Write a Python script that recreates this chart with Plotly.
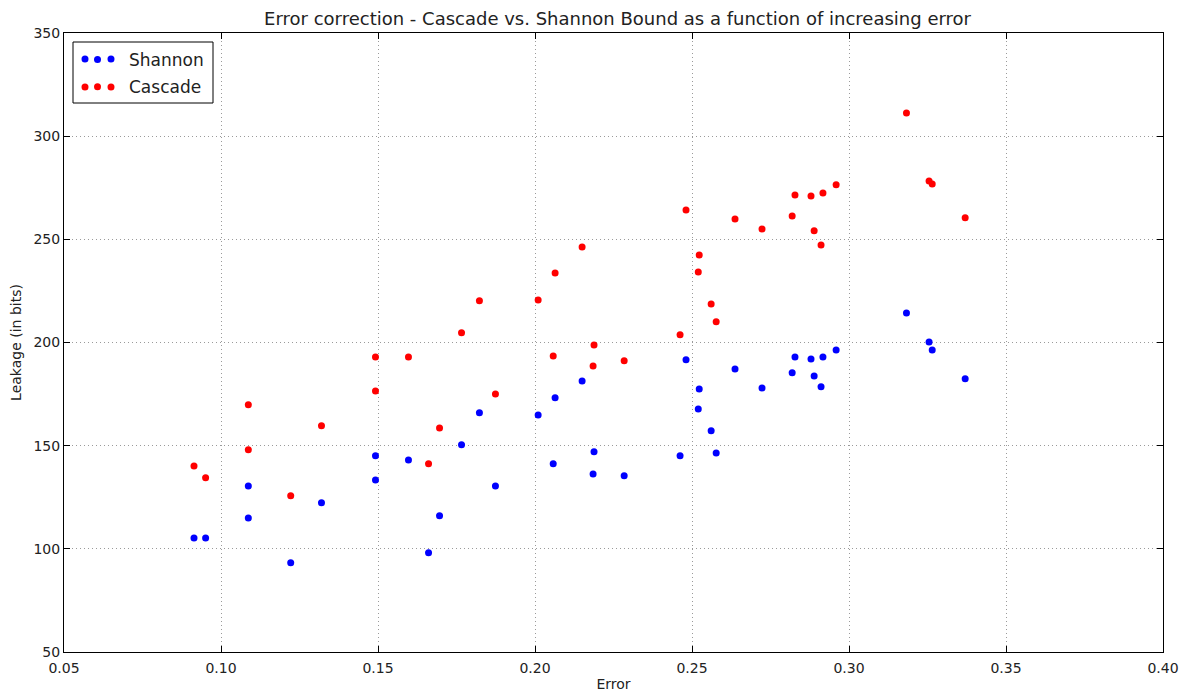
import plotly.graph_objects as go

error = [0.0914, 0.0951, 0.1087, 0.1087, 0.1222, 0.1320, 0.1492, 0.1492, 0.1597, 0.1661,
         0.1696, 0.1766, 0.1823, 0.1874, 0.2010, 0.2058, 0.2064, 0.2150, 0.2188, 0.2185,
         0.2284, 0.2462, 0.2481, 0.2523, 0.2520, 0.2561, 0.2577, 0.2637, 0.2723, 0.2819,
         0.2828, 0.2879, 0.2889, 0.2911, 0.2917, 0.2959, 0.3183, 0.3255, 0.3265, 0.3370]

shannon = [105.3, 105.3, 130.5, 115.0, 93.2, 122.3, 145.1, 133.4, 143.1, 98.1,
           116.0, 150.4, 165.9, 130.5, 164.9, 141.2, 173.2, 181.4, 147.0, 136.3,
           135.4, 145.1, 191.6, 177.5, 167.8, 157.2, 146.5, 187.2, 178.0, 185.3,
           193.0, 192.0, 183.8, 178.5, 193.0, 196.4, 214.3, 200.3, 196.4, 182.4]

cascade = [140.2, 134.4, 169.8, 148.0, 125.7, 159.6, 193.0, 176.5, 193.0, 141.2,
           158.6, 204.7, 220.2, 175.0, 220.6, 193.5, 233.7, 246.3, 198.8, 188.6,
           191.1, 203.7, 264.2, 242.4, 234.2, 218.7, 210.0, 259.9, 255.0, 261.3,
           271.5, 271.0, 254.1, 247.3, 272.5, 276.4, 311.2, 278.3, 276.8, 260.4]

x_ticks = [0.05, 0.10, 0.15, 0.20, 0.25, 0.30, 0.35, 0.40]
y_ticks = [50, 100, 150, 200, 250, 300, 350]

FONT = "DejaVu Sans, sans-serif"
TXT = "#222222"

W, H = 1179, 690
ML, MR, MT, MB = 56, 24, 25, 46
PW, PH = W - ML - MR, H - MT - MB


def px(xd):
    return (xd - ML) / PW


def py(yd):
    return 1 - (yd - MT) / PH


fig = go.Figure()
fig.add_trace(go.Scatter(x=error, y=shannon, mode="markers", name="Shannon", legendgroup="s",
                         marker=dict(color="#0000ff", size=7, line=dict(width=0))))
fig.add_trace(go.Scatter(x=error, y=cascade, mode="markers", name="Cascade", legendgroup="c",
                         marker=dict(color="#ff0000", size=7, line=dict(width=0))))

axis_common = dict(showline=True, linecolor="black", linewidth=1, mirror="ticks",
                   ticks="inside", ticklen=6, tickcolor="black",
                   showgrid=True, gridcolor="#9a9a9a", griddash="1px,3px", gridwidth=1,
                   zeroline=False, automargin=False,
                   tickfont=dict(family=FONT, size=14, color=TXT))

fig.update_xaxes(range=[0.05, 0.40], tickvals=x_ticks,
                 ticktext=[f"{v:.2f}" for v in x_ticks], ticklabelstandoff=3,
                 title=dict(text="Error", font=dict(family=FONT, size=14, color=TXT), standoff=4),
                 **axis_common)
fig.update_yaxes(range=[50, 350], tickvals=y_ticks,
                 ticktext=[str(v) for v in y_ticks],
                 title=dict(text="Leakage (in bits)", font=dict(family=FONT, size=14, color=TXT), standoff=8),
                 **axis_common)

# legend frame and extra dots (matplotlib shows three scatter points per entry)
shapes = [dict(type="rect", xref="paper", yref="paper",
               x0=px(65), x1=px(205), y0=py(95), y1=py(34),
               line=dict(color="black", width=1), fillcolor="rgba(0,0,0,0)", layer="above")]
for yy, col in [(50, "#0000ff"), (78, "#ff0000")]:
    for xx in (77, 103):
        shapes.append(dict(type="circle", xref="paper", yref="paper",
                           xsizemode="pixel", ysizemode="pixel",
                           xanchor=px(xx), yanchor=py(yy + 1),
                           x0=-3.5, x1=3.5, y0=-3.5, y1=3.5,
                           fillcolor=col, line=dict(width=0), layer="above"))

fig.update_layout(
    width=W, height=H,
    margin=dict(l=ML, r=MR, t=MT, b=MB),
    paper_bgcolor="white", plot_bgcolor="white",
    title=dict(text="Error correction - Cascade vs. Shannon Bound as a function of increasing error",
               x=0.517, xanchor="center", y=1 - 11 / H, yanchor="middle",
               font=dict(family=FONT, size=18, color=TXT)),
    legend=dict(x=px(58), y=py(34), xanchor="left", yanchor="top",
                bgcolor="rgba(0,0,0,0)", borderwidth=0,
                font=dict(family=FONT, size=17, color=TXT),
                itemwidth=53, tracegroupgap=2),
    shapes=shapes,
    showlegend=True,
)

fig.write_html("out.html")
